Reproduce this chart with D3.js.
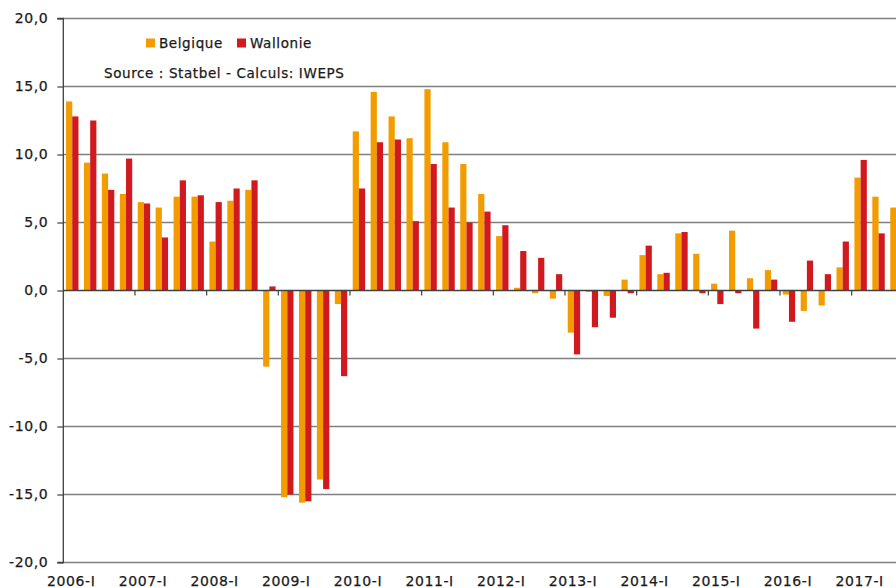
<!DOCTYPE html>
<html>
<head>
<meta charset="utf-8">
<script src="https://cdn.jsdelivr.net/npm/d3@7"></script>
<style>
  html, body { margin: 0; padding: 0; background: #fff; }
  svg { display: block; font-family: "DejaVu Sans", sans-serif; }
  svg text { letter-spacing: 0.6px; stroke: #1a1a1a; stroke-width: 0.25px; }
</style>
</head>
<body>
<svg id="chart" width="896" height="588"></svg>
<script>
// Quarters 2006-I .. 2017-III (the last one is cut by the right edge)
const years = d3.range(2006, 2018);
const quarterNames = ["I", "II", "III", "IV"];
const quarters = [];
years.forEach(yr => quarterNames.forEach(q => quarters.push(yr + "-" + q)));
quarters.splice(47); // stop at 2017-III

const belgique = [
  13.9, 9.4, 8.6, 7.1,
  6.5, 6.1, 6.9, 6.9,
  3.6, 6.6, 7.4, -5.6,
  -15.2, -15.6, -13.9, -1.0,
  11.7, 14.6, 12.8, 11.2,
  14.8, 10.9, 9.3, 7.1,
  4.0, 0.2, -0.2, -0.6,
  -3.1, -0.1, -0.4, 0.8,
  2.6, 1.2, 4.2, 2.7,
  0.5, 4.4, 0.9, 1.5,
  -0.3, -1.5, -1.1, 1.7,
  8.3, 6.9, 6.1
];

const wallonie = [
  12.8, 12.5, 7.4, 9.7,
  6.4, 3.9, 8.1, 7.0,
  6.5, 7.5, 8.1, 0.3,
  -15.0, -15.5, -14.6, -6.3,
  7.5, 10.9, 11.1, 5.1,
  9.3, 6.1, 5.0, 5.8,
  4.8, 2.9, 2.4, 1.2,
  -4.7, -2.7, -2.0, -0.2,
  3.3, 1.3, 4.3, -0.2,
  -1.0, -0.2, -2.8, 0.8,
  -2.3, 2.2, 1.2, 3.6,
  9.6, 4.2, null
];

const yTicks = [-20, -15, -10, -5, 0, 5, 10, 15, 20];
const series = [
  { name: "Belgique", values: belgique, color: "#f39c00" },
  { name: "Wallonie", values: wallonie, color: "#d01a1f" }
];

const svg = d3.select("#chart");
const plotLeft = 63.3, plotTop = 18.5, plotBottom = 562.5;
const quarterW = 71.67 / 4;

const x = d3.scaleBand()
  .domain(quarters)
  .range([plotLeft, plotLeft + quarterW * quarters.length])
  .paddingInner(0)
  .paddingOuter(0);

const inner = d3.scaleBand()
  .domain(series.map(s => s.name))
  .range([x.bandwidth() / 2 - 6.2, x.bandwidth() / 2 + 6.2]);

const y = d3.scaleLinear().domain([-20, 20]).range([plotBottom, plotTop]);

// gridlines
svg.append("g")
  .selectAll("line")
  .data(yTicks.filter(d => d !== 0))
  .join("line")
  .attr("x1", plotLeft)
  .attr("x2", 896)
  .attr("y1", d => y(d))
  .attr("y2", d => y(d))
  .attr("stroke", "#7f7f7f")
  .attr("stroke-width", 1.6);

// bars
series.forEach(s => {
  svg.append("g")
    .selectAll("rect")
    .data(quarters.map((q, i) => ({ q, v: s.values[i] })).filter(d => d.v !== null))
    .join("rect")
    .attr("x", d => x(d.q) + inner(s.name))
    .attr("width", inner.bandwidth())
    .attr("y", d => y(Math.max(0, d.v)))
    .attr("height", d => Math.abs(y(d.v) - y(0)))
    .attr("fill", s.color);
});

// zero line with year ticks
svg.append("line")
  .attr("x1", plotLeft).attr("x2", 896)
  .attr("y1", y(0)).attr("y2", y(0))
  .attr("stroke", "#404040")
  .attr("stroke-width", 1.3);

svg.append("g")
  .selectAll("line")
  .data(quarters.filter(q => q.endsWith("-I") && q !== "2006-I"))
  .join("line")
  .attr("x1", d => x(d)).attr("x2", d => x(d))
  .attr("y1", y(0)).attr("y2", y(0) + 5)
  .attr("stroke", "#404040")
  .attr("stroke-width", 1.2);

// y axis
const yAxis = svg.append("g")
  .attr("transform", `translate(${plotLeft},0)`)
  .call(d3.axisLeft(y)
    .tickValues(yTicks)
    .tickSize(6)
    .tickPadding(9)
    .tickFormat(d => d3.format(".1f")(d).replace(".", ",").replace("−", "-")));
yAxis.select(".domain").attr("stroke", "#404040").attr("stroke-width", 1.3)
  .attr("d", `M-6,${plotTop}H0V${plotBottom}H-6`);
yAxis.selectAll(".tick line").attr("stroke", "#404040").attr("stroke-width", 1.2);
yAxis.selectAll(".tick text")
  .attr("font-family", "DejaVu Sans, sans-serif")
  .attr("font-size", 14)
  .attr("fill", "#1a1a1a");

// x labels (year-I under the first quarter)
svg.append("g")
  .selectAll("text")
  .data(quarters.filter(q => q.endsWith("-I")))
  .join("text")
  .attr("x", d => x(d) + x.bandwidth() / 2 - 1)
  .attr("y", 586)
  .attr("text-anchor", "middle")
  .attr("font-size", 14)
  .attr("fill", "#1a1a1a")
  .text(d => d);

// legend
const legend = svg.append("g");
const legendX = [146, 237];
series.forEach((s, i) => {
  legend.append("rect")
    .attr("x", legendX[i]).attr("y", 38.5)
    .attr("width", 9).attr("height", 9)
    .attr("fill", s.color);
  legend.append("text")
    .attr("x", legendX[i] + 13).attr("y", 47.5)
    .attr("font-size", 13.5)
    .attr("fill", "#1a1a1a")
    .text(s.name);
});

svg.append("text")
  .attr("x", 104).attr("y", 77.5)
  .attr("font-size", 13.5)
  .attr("fill", "#1a1a1a")
  .text("Source : Statbel - Calculs: IWEPS");
</script>
</body>
</html>
